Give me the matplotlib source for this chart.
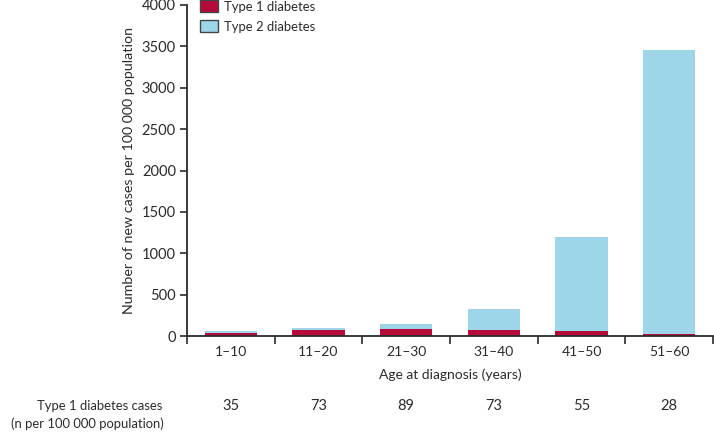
import matplotlib
matplotlib.use("Agg")
import matplotlib.pyplot as plt
from matplotlib.patches import Patch

categories = ["1–10", "11–20", "21–30", "31–40", "41–50", "51–60"]
type1 = [35, 73, 89, 73, 55, 28]
type2 = [22, 20, 61, 249, 1145, 3432]
type1_counts = ["35", "73", "89", "73", "55", "28"]
yticks = [0, 500, 1000, 1500, 2000, 2500, 3000, 3500, 4000]

RED = "#B5093A"
BLUE = "#9DD6E8"
AX = "#2b2b2b"

plt.rcParams['font.family'] = ['Lato', 'DejaVu Sans']
plt.rcParams['font.size'] = 10

fig = plt.figure(figsize=(7.14, 4.33), dpi=100)
ax = fig.add_axes([187/714, 1-336/433, (713-187)/714, (336-5)/433])

x = list(range(len(categories)))
ax.bar(x, type1, width=0.6, color=RED, edgecolor="none")
ax.bar(x, type2, width=0.6, bottom=type1, color=BLUE, edgecolor="none")

ax.set_xlim(-0.5, len(categories) - 0.5)
ax.set_ylim(0, 4000)
ax.set_yticks(yticks)
ax.set_yticklabels([str(v) for v in yticks], color=AX, fontsize=10.5)

ax.set_xticks([i - 0.5 for i in range(len(categories) + 1)])
ax.set_xticklabels([])
ax.set_xticks(x, minor=True)
ax.set_xticklabels(categories, minor=True, color=AX, fontsize=10)
ax.tick_params(axis='x', which='minor', length=0, pad=7)
ax.tick_params(axis='x', which='major', length=6, width=1.2, color=AX, direction='out')
ax.tick_params(axis='y', length=5, width=1.2, color=AX, direction='out', pad=3)

for s in ['top', 'right']:
    ax.spines[s].set_visible(False)
for s in ['left', 'bottom']:
    ax.spines[s].set_color(AX)
    ax.spines[s].set_linewidth(1.3)

ax.set_xlabel("Age at diagnosis (years)", color=AX, labelpad=8, fontsize=10)
ax.set_ylabel("Number of new cases per 100 000 population", color=AX, labelpad=5, fontsize=10.3)

handles = [Patch(facecolor=RED, edgecolor="#444444", linewidth=1.0, label="Type 1 diabetes"),
           Patch(facecolor=BLUE, edgecolor="#444444", linewidth=1.0, label="Type 2 diabetes")]
leg = ax.legend(handles=handles, loc="upper left", bbox_to_anchor=(0.015, 1.03), frameon=False,
                handlelength=1.4, handleheight=1.0, handletextpad=0.45, labelspacing=0.6,
                borderaxespad=0.0, fontsize=9.4)
for t in leg.get_texts():
    t.set_color(AX)

for i, c in enumerate(type1_counts):
    fig.text((187 + (i + 0.5) * (713 - 187) / 6) / 714, 1 - 406/433, c,
             ha="center", va="center", color=AX, fontsize=10.5)
fig.text(162/714, 1 - 406/433, "Type 1 diabetes cases", ha="right", va="center", color=AX, fontsize=9.4)
fig.text(164/714, 1 - 424/433, "(n per 100 000 population)", ha="right", va="center", color=AX, fontsize=9.4)

fig.savefig("out.png", dpi=100)
